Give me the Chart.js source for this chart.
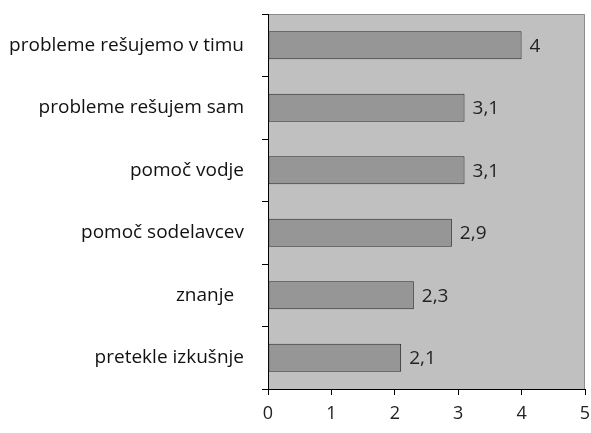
<!DOCTYPE html>
<html><head><meta charset="utf-8">
<script src="https://cdn.jsdelivr.net/npm/chart.js@4/dist/chart.umd.min.js"></script>
<style>html,body{margin:0;padding:0;background:#fff}#wrap{width:591px;height:433px}</style>
</head><body><div id="wrap"><canvas id="c" width="591" height="433"></canvas></div>
<script>
const categories = ["probleme rešujemo v timu","probleme rešujem sam","pomoč vodje","pomoč sodelavcev","znanje  ","pretekle izkušnje"];
const values = [4, 3.1, 3.1, 2.9, 2.3, 2.1];
const valueLabels = ["4","3,1","3,1","2,9","2,3","2,1"];
const xTicks = [0,1,2,3,4,5];
const FONT = "'Open Sans', 'DejaVu Sans', sans-serif";

const bgPlugin = {
  id:'bg',
  beforeDraw(chart){
    const {ctx, chartArea:a} = chart;
    ctx.save();
    ctx.fillStyle = '#C0C0C0';
    ctx.fillRect(a.left, a.top, a.right-a.left, a.bottom-a.top);
    ctx.strokeStyle = '#8c8c8c';
    ctx.lineWidth = 1;
    ctx.beginPath();
    ctx.moveTo(a.left, a.top+0.5); ctx.lineTo(a.right-0.5, a.top+0.5); ctx.lineTo(a.right-0.5, a.bottom);
    ctx.stroke();
    ctx.restore();
  },
  afterDatasetsDraw(chart){
    const {ctx} = chart;
    const meta = chart.getDatasetMeta(0);
    ctx.save();
    ctx.fillStyle = '#222';
    ctx.font = "19px " + FONT;
    ctx.textBaseline = 'middle';
    meta.data.forEach((bar,i)=>{
      ctx.fillText(valueLabels[i], bar.x + 8, bar.y + 1);
    });
    ctx.restore();
  }
};
function zeroPad(s){ s.paddingTop = 0; s.paddingBottom = 0; s.paddingLeft = 0; s.paddingRight = 0; }

new Chart(document.getElementById('c'), {
  type:'bar',
  data:{labels:categories, datasets:[{data:values, backgroundColor:'#969696', borderColor:'#2a2a2a', borderWidth:1, borderSkipped:false, barPercentage:0.45, categoryPercentage:1}]},
  options:{
    indexAxis:'y', responsive:false, animation:false,
    layout:{padding:{top:14, right:6, left:0, bottom:0}},
    plugins:{legend:{display:false}, tooltip:{enabled:false}},
    scales:{
      x:{min:0, max:5, afterBuildTicks(s){s.ticks = xTicks.map(v=>({value:v}));},
        grid:{drawOnChartArea:false, color:'#000', tickLength:6, tickColor:'#000'},
        border:{color:'#000', width:1},
        ticks:{color:'#222', font:{size:18, family:FONT}, padding:8},
        afterFit(s){s.height = 44; zeroPad(s);}
      },
      y:{grid:{offset:true, drawOnChartArea:false, tickLength:6, tickColor:'#000'},
        border:{color:'#000', width:1},
        ticks:{color:'#111', font:{size:19, family:FONT, lineHeight:1.2}, padding:18},
        afterFit(s){s.width = 268; zeroPad(s);}
      }
    }
  },
  plugins:[bgPlugin]
});
</script></body></html>
